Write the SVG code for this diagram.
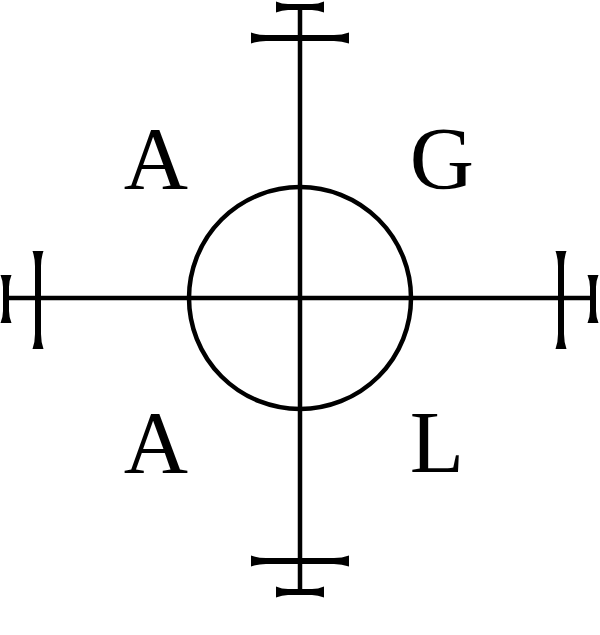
<svg xmlns="http://www.w3.org/2000/svg" width="600" height="635" viewBox="0 0 600 635">
<style>
.ln{stroke:#000;stroke-width:4.5;fill:none}
.lt{font-family:"Liberation Serif","Times New Roman",serif;font-size:89px;fill:#000;text-anchor:middle}
</style>
<defs>
<path id="capL" d="M-49,-5.5 L-49,5.5 Q-42,3 -34,3 L34,3 Q42,3 49,5.5 L49,-5.5 Q42,-3 34,-3 L-34,-3 Q-42,-3 -49,-5.5 Z" fill="#000"/>
<path id="capS" d="M-24,-5.5 L-24,5.5 Q-18,3 -12,3 L12,3 Q18,3 24,5.5 L24,-5.5 Q18,-3 12,-3 L-12,-3 Q-18,-3 -24,-5.5 Z" fill="#000"/>
</defs>
<rect width="600" height="635" fill="#fff"/>
<g id="connectors">
<line class="ln" x1="300" y1="6" x2="300" y2="592"/>
<line class="ln" x1="6" y1="298" x2="593" y2="298"/>
</g>
<g id="circle"><circle class="ln" cx="300" cy="298" r="111"/></g>
<g id="caps">
<use href="#capS" transform="translate(300,7)"/>
<use href="#capL" transform="translate(300,38)"/>
<use href="#capL" transform="translate(300,561)"/>
<use href="#capS" transform="translate(300,592)"/>
<use href="#capS" transform="translate(6,299) rotate(90)"/>
<use href="#capL" transform="translate(38,300) rotate(90)"/>
<use href="#capL" transform="translate(561,300) rotate(90)"/>
<use href="#capS" transform="translate(593,299) rotate(90)"/>
</g>
<g id="label-a1"><text class="lt" x="156" y="188">A</text></g>
<g id="label-g"><text class="lt" x="442" y="188">G</text></g>
<g id="label-a2"><text class="lt" x="156" y="472">A</text></g>
<g id="label-l"><text class="lt" x="437" y="472">L</text></g>
</svg>
